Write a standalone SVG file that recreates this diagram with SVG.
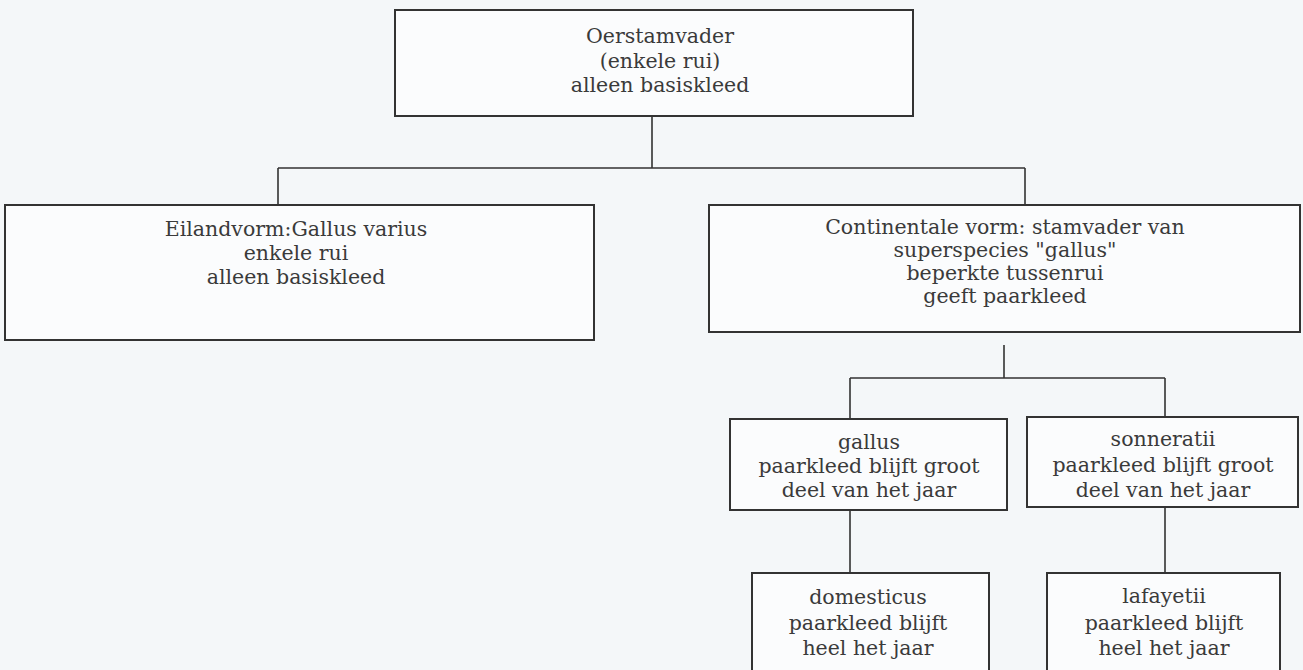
<svg xmlns="http://www.w3.org/2000/svg" width="1303" height="670" viewBox="0 0 1303 670">
<style>
.box{fill:#fbfcfd;stroke:#333333;stroke-width:2}
.ln{fill:none;stroke:#333333;stroke-width:1.6}
.t{font-family:"DejaVu Serif","Liberation Serif",serif;font-size:20.5px;fill:#3a3a3a;text-anchor:middle}
</style>
<rect width="1303" height="670" fill="#f4f7f9"/>
<g id="connectors">
<path class="ln" d="M652 116V168M278 168H1025M278 168V205M1025 168V205"/>
<path class="ln" d="M1004 345V378M850 378H1165M850 378V419M1165 378V417"/>
<path class="ln" d="M850 510V573M1165 507V573"/>
</g>
<g id="n-oerstamvader">
<rect class="box" x="395" y="10" width="518" height="106"/>
<text class="t" x="660" y="43">Oerstamvader</text>
<text class="t" x="660" y="68">(enkele rui)</text>
<text class="t" x="660" y="92">alleen basiskleed</text>
</g>
<g id="n-eilandvorm">
<rect class="box" x="5" y="205" width="589" height="135"/>
<text class="t" x="296" y="236">Eilandvorm:Gallus varius</text>
<text class="t" x="296" y="260">enkele rui</text>
<text class="t" x="296" y="284">alleen basiskleed</text>
</g>
<g id="n-continentale">
<rect class="box" x="709" y="205" width="591" height="127"/>
<text class="t" x="1005" y="234">Continentale vorm: stamvader van</text>
<text class="t" x="1005" y="257">superspecies "gallus"</text>
<text class="t" x="1005" y="280">beperkte tussenrui</text>
<text class="t" x="1005" y="303">geeft paarkleed</text>
</g>
<g id="n-gallus">
<rect class="box" x="730" y="419" width="277" height="91"/>
<text class="t" x="869" y="449">gallus</text>
<text class="t" x="869" y="473">paarkleed blijft groot</text>
<text class="t" x="869" y="497">deel van het jaar</text>
</g>
<g id="n-sonneratii">
<rect class="box" x="1027" y="417" width="271" height="90"/>
<text class="t" x="1163" y="446">sonneratii</text>
<text class="t" x="1163" y="472">paarkleed blijft groot</text>
<text class="t" x="1163" y="497">deel van het jaar</text>
</g>
<g id="n-domesticus">
<rect class="box" x="752" y="573" width="237" height="110"/>
<text class="t" x="868" y="604">domesticus</text>
<text class="t" x="868" y="630">paarkleed blijft</text>
<text class="t" x="868" y="655">heel het jaar</text>
</g>
<g id="n-lafayetii">
<rect class="box" x="1047" y="573" width="233" height="110"/>
<text class="t" x="1164" y="603">lafayetii</text>
<text class="t" x="1164" y="630">paarkleed blijft</text>
<text class="t" x="1164" y="655">heel het jaar</text>
</g>
</svg>
